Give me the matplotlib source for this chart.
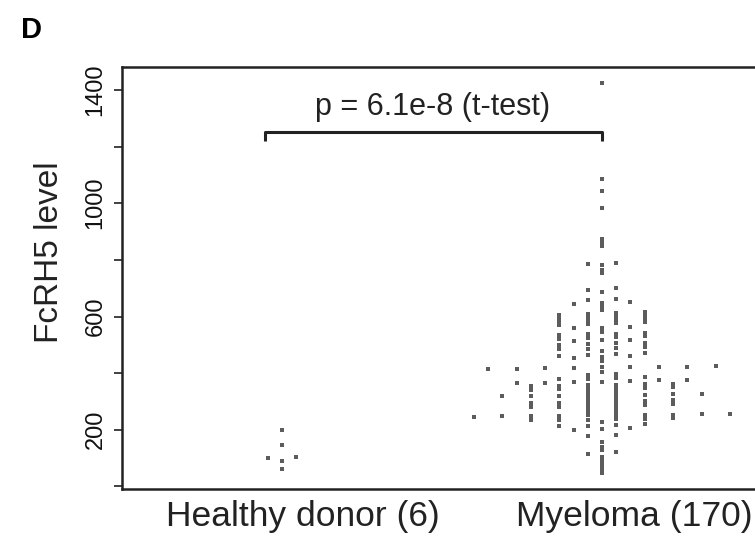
import numpy as np
import matplotlib
matplotlib.use("Agg")
import matplotlib.pyplot as plt

plt.rcParams["font.family"] = ["Liberation Sans", "DejaVu Sans"]

groups = ["Healthy donor (6)", "Myeloma (170)"]
healthy = [201, 148, 101, 104, 91, 60]
myeloma = [
    1426, 1087, 1042, 983, 875, 860, 848,
    786, 788, 781, 766, 752, 694, 699, 687,
    657, 662, 643, 646, 650, 636, 622,
    607, 609, 612, 615, 595, 598, 600, 603,
    584, 587, 589, 592, 571, 575, 577, 579,
    558, 560, 563, 546, 536, 538, 540, 543,
    522, 525, 528, 530, 512, 516, 518,
    499, 502, 505, 507, 486, 487, 490, 493, 479,
    462, 465, 469, 471, 452, 456, 459, 444,
    414, 416, 417, 418, 420, 421, 422, 423, 424,
    404, 393, 398, 378, 381, 384, 387,
    366, 367, 368, 369, 372, 375, 376,
    354, 356, 357, 359, 362, 363,
    342, 344, 345, 347, 349, 351, 334, 338,
    318, 319, 320, 322, 323, 324, 326, 328, 309, 313,
    294, 296, 298, 300, 302, 304,
    281, 282, 284, 287, 289, 291, 272, 277, 263, 266,
    246, 247, 249, 250, 251, 252, 253, 254, 255, 256,
    234, 235, 236, 237, 238, 240, 228,
    212, 215, 217, 219, 198, 204, 206,
    178, 182, 157, 140, 127, 116, 122, 105,
    92, 80, 68, 57, 46,
]
yticks = [0, 200, 400, 600, 800, 1000, 1200, 1400]
ytick_labels = ["", "200", "", "600", "", "1000", "", "1400"]
p_label = "p = 6.1e-8 (t-test)"
bracket_top = 1250
bracket_drop = 1220


def center_swarm(values, pos, bin_h=12.0, origin=5.0, unit=0.089):
    # beeswarm "center": bin by y, spread each bin symmetrically
    vals = np.asarray(values, dtype=float)
    bins = np.floor((vals - origin) / bin_h).astype(int)
    xs = np.full(len(vals), float(pos))
    for b in np.unique(bins):
        idx = np.where(bins == b)[0]
        idx = idx[np.argsort(vals[idx])]
        n = len(idx)
        xs[idx] += (np.arange(n) - (n - 1) / 2) * unit
    return xs, vals


fig = plt.figure(figsize=(7.55, 5.37), dpi=100)
ax = fig.add_axes([122 / 755, 1 - 489 / 537, 640 / 755, 422 / 537])

for i, data in enumerate([healthy, myeloma]):
    xs, ys = center_swarm(data, i + 1)
    ax.plot(xs, ys, ls="none", marker="s", ms=2.2, mew=0, color="#5c5c5c")

ax.set_xlim(0.5, 2.5)
ax.set_ylim(-9, 1481)
ax.set_xticks([])
ax.set_yticks(yticks)
ax.set_yticklabels(ytick_labels, rotation=90, va="center", fontsize=17, color="#111111")
ax.tick_params(axis="y", length=6, width=1.3, pad=5, color="#333333")
for s in ax.spines.values():
    s.set_linewidth(1.8)
    s.set_color("#222222")

ax.set_ylabel("FcRH5 level", fontsize=24, color="#222222")
ax.yaxis.set_label_coords(-0.089, 0.56)

# group names sit a bit right of the swarm centres
for x, name in zip([1.066, 2.1], groups):
    ax.text(x, -0.025, name, transform=ax.get_xaxis_transform(), ha="center", va="top",
            fontsize=25.5, color="#222222")

# significance bracket
ax.plot([0.947, 0.947, 2.0, 2.0], [bracket_drop, bracket_top, bracket_top, bracket_drop],
        color="#222222", lw=2.2, solid_capstyle="butt")
ax.text(1.47, 1340, p_label, ha="center", va="center", fontsize=22, color="#222222")

fig.text(21 / 755, 1 - 38 / 537, "D", fontsize=21, fontweight="bold", ha="left", va="baseline")

fig.savefig("out.png", dpi=100)
